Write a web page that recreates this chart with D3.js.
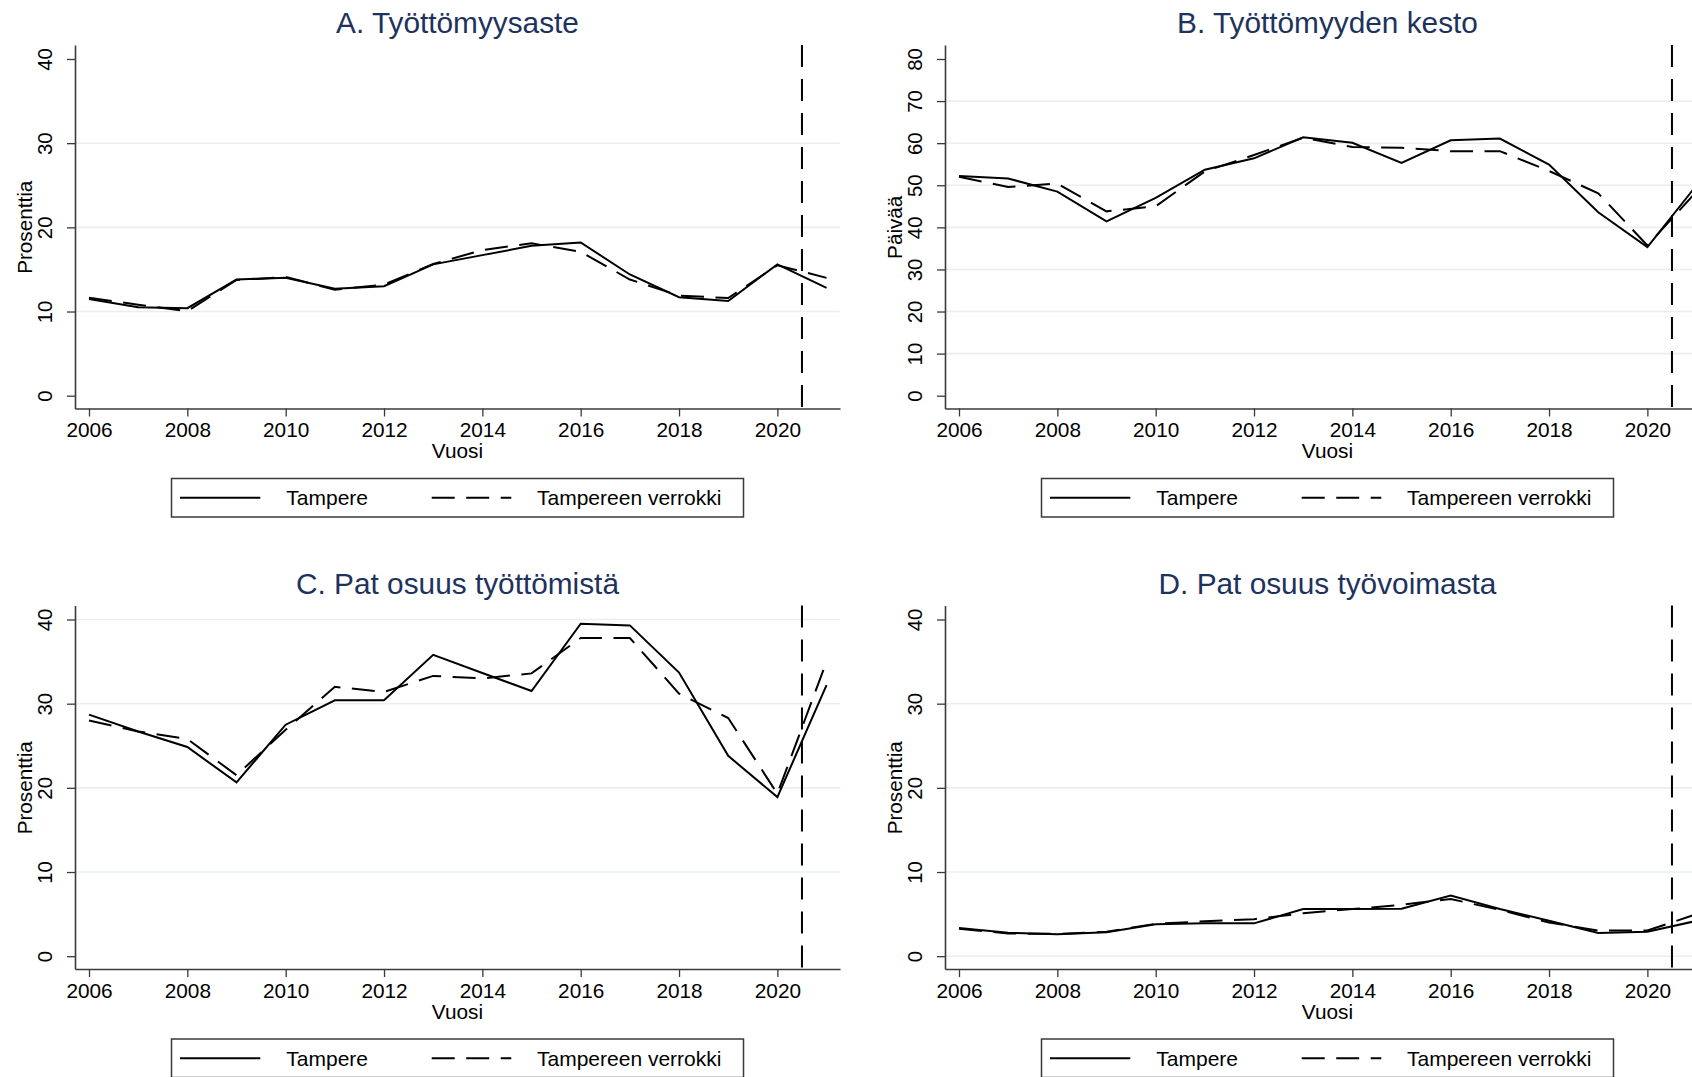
<!DOCTYPE html>
<html>
<head>
<meta charset="utf-8">
<script src="https://cdn.jsdelivr.net/npm/d3@7"></script>
<style>
  body { margin: 0; background: #fff; }
  svg { display: block; font-family: "Liberation Sans", Arial, sans-serif; }
</style>
</head>
<body>
<div id="chart"></div>
<script>
// years on the x axis
var years = [2006, 2007, 2008, 2009, 2010, 2011, 2012, 2013, 2014, 2015, 2016, 2017, 2018, 2019, 2020, 2021];
var xTicks = [2006, 2008, 2010, 2012, 2014, 2016, 2018, 2020];
var cutYear = 2020.5;

// A. Työttömyysaste (%)
var aTampere  = [11.5, 10.5, 10.4, 13.8, 14.0, 12.7, 13.0, 15.6, 16.7, 17.8, 18.2, 14.4, 11.7, 11.25, 15.6, 12.8];
var aVerrokki = [11.65, 10.8, 10.05, 13.75, 14.1, 12.6, 13.2, 15.65, 17.3, 18.1, 17.1, 13.8, 11.9, 11.6, 15.5, 14.0];

// B. Työttömyyden kesto (päivää)
var bTampere  = [52.2, 51.6, 48.5, 41.4, 47.0, 53.7, 56.4, 61.4, 60.1, 55.3, 60.7, 61.1, 54.9, 43.6, 35.3, 50.0];
var bVerrokki = [52.0, 49.6, 50.4, 43.8, 45.0, 53.3, 57.2, 61.3, 59.1, 58.9, 58.1, 58.1, 53.4, 48.1, 35.7, 48.5];

// C. Pat osuus työttömistä (%)
var cTampere  = [28.7, 26.7, 24.85, 20.65, 27.5, 30.4, 30.4, 35.8, 33.65, 31.5, 39.5, 39.3, 33.7, 23.8, 18.9, 32.2];
var cVerrokki = [28.0, 26.7, 25.8, 21.5, 26.9, 32.0, 31.4, 33.3, 33.0, 33.6, 37.8, 37.8, 31.2, 28.3, 19.3, 35.0];

// D. Pat osuus työvoimasta (%)
var dTampere  = [3.35, 2.8, 2.6, 2.85, 3.8, 3.9, 3.9, 5.6, 5.6, 5.65, 7.2, 5.6, 4.2, 2.75, 2.9, 4.2];
var dVerrokki = [3.25, 2.7, 2.65, 2.9, 3.85, 4.15, 4.4, 5.1, 5.6, 6.1, 6.8, 5.5, 4.0, 3.05, 3.05, 5.0];

var seriesNames = ["Tampere", "Tampereen verrokki"];

var svgWidth = 1692;
var svgHeight = 1077;

// plot region of one panel (panel-local coordinates)
var plot = { left: 75, top: 45, width: 765, height: 363.5 };
var yearPx = 49.17;

var titleColor = "#1e325e";
var axisColor = "#3a3a3a";
var gridColor = "#e8eff1";
var dashSeries = "23,11.5";
var dashCut = "22,12";

var panels = [
  { title: "A. Työttömyysaste", yLabel: "Prosenttia", yMax: 40, yTicks: [0, 10, 20, 30, 40], grid: [10, 20, 30],
    tampere: aTampere, verrokki: aVerrokki, dx: 0, dy: 0 },
  { title: "B. Työttömyyden kesto", yLabel: "Päivää", yMax: 80, yTicks: [0, 10, 20, 30, 40, 50, 60, 70, 80], grid: [10, 20, 30, 40, 50, 60, 70],
    tampere: bTampere, verrokki: bVerrokki, dx: 870, dy: 0 },
  { title: "C. Pat osuus työttömistä", yLabel: "Prosenttia", yMax: 40, yTicks: [0, 10, 20, 30, 40], grid: [10, 20, 30, 40],
    tampere: cTampere, verrokki: cVerrokki, dx: 0, dy: 560.5 },
  { title: "D. Pat osuus työvoimasta", yLabel: "Prosenttia", yMax: 40, yTicks: [0, 10, 20, 30, 40], grid: [0, 10, 20, 30],
    tampere: dTampere, verrokki: dVerrokki, dx: 870, dy: 560.5 }
];

var svg = d3.select("#chart")
  .append("svg")
  .attr("width", svgWidth)
  .attr("height", svgHeight)
  .style("overflow", "hidden");

svg.append("rect").attr("width", svgWidth).attr("height", svgHeight).attr("fill", "#fff");

function drawPanel(p) {
  var g = svg.append("g")
    .attr("transform", `translate(${p.dx + plot.left}, ${p.dy + plot.top})`);

  // x: 2006 sits 14px right of the y axis
  var x0 = 2006 - 14 / yearPx;
  var x1 = x0 + plot.width / yearPx;
  var xScale = d3.scaleLinear().domain([x0, x1]).range([0, plot.width]);

  // y: 0..yMax spans 336.7px, axis overhangs 12.8px below and 14px above
  var unit = 336.7 / p.yMax;
  var yScale = d3.scaleLinear()
    .domain([-12.8 / unit, p.yMax + 14 / unit])
    .range([plot.height, 0]);

  // grid lines
  g.append("g").selectAll("line")
    .data(p.grid)
    .enter()
    .append("line")
    .attr("x1", 0)
    .attr("x2", plot.width)
    .attr("y1", d => yScale(d))
    .attr("y2", d => yScale(d))
    .attr("stroke", gridColor)
    .attr("stroke-width", 1.6);

  // title
  svg.append("text")
    .attr("x", p.dx + plot.left + plot.width / 2)
    .attr("y", p.dy + 33.3)
    .attr("text-anchor", "middle")
    .attr("font-size", "29.8px")
    .attr("fill", titleColor)
    .text(p.title);

  // x axis
  var xAxis = g.append("g")
    .attr("transform", `translate(0, ${plot.height})`)
    .call(d3.axisBottom(xScale).tickValues(xTicks).tickFormat(d3.format("d")).tickSize(8).tickSizeOuter(0).tickPadding(6));
  xAxis.select(".domain").attr("stroke", axisColor).attr("stroke-width", 1.6);
  xAxis.selectAll(".tick line").attr("stroke", axisColor).attr("stroke-width", 1.3);
  xAxis.selectAll(".tick text")
    .attr("font-size", "20.8px")
    .attr("font-family", "Liberation Sans, Arial, sans-serif")
    .attr("fill", "#000");

  // y axis with vertical labels
  var yAxis = g.append("g")
    .call(d3.axisLeft(yScale).tickValues(p.yTicks).tickSize(8).tickSizeOuter(0).tickFormat(d3.format("d")));
  yAxis.select(".domain").attr("stroke", axisColor).attr("stroke-width", 1.6);
  yAxis.selectAll(".tick line").attr("stroke", axisColor).attr("stroke-width", 1.3);
  yAxis.selectAll(".tick text")
    .attr("x", null)
    .attr("transform", "translate(-30, 0) rotate(-90)")
    .attr("text-anchor", "middle")
    .attr("dy", "0.36em")
    .attr("font-size", "20.3px")
    .attr("font-family", "Liberation Sans, Arial, sans-serif")
    .attr("fill", "#000");

  // axis titles
  g.append("text")
    .attr("transform", `translate(-50, ${plot.height / 2 + 0.5}) rotate(-90)`)
    .attr("text-anchor", "middle")
    .attr("dy", "0.36em")
    .attr("font-size", "20.7px")
    .attr("fill", "#000")
    .text(p.yLabel);

  g.append("text")
    .attr("x", plot.width / 2)
    .attr("y", plot.height + 49.5)
    .attr("text-anchor", "middle")
    .attr("font-size", "20.8px")
    .attr("fill", "#000")
    .text("Vuosi");

  // lines
  var line = d3.line()
    .x((d, i) => xScale(years[i]))
    .y(d => yScale(d));

  g.append("path")
    .datum(p.verrokki)
    .attr("d", line)
    .attr("fill", "none")
    .attr("stroke", "#000")
    .attr("stroke-width", 2)
    .attr("stroke-dasharray", dashSeries);

  g.append("path")
    .datum(p.tampere)
    .attr("d", line)
    .attr("fill", "none")
    .attr("stroke", "#000")
    .attr("stroke-width", 2);

  // vertical reference line at 2020.5
  g.append("line")
    .attr("x1", xScale(cutYear))
    .attr("x2", xScale(cutYear))
    .attr("y1", 0)
    .attr("y2", plot.height)
    .attr("stroke", "#000")
    .attr("stroke-width", 2)
    .attr("stroke-dasharray", dashCut);

  // legend
  var legW = 572, legH = 38.5;
  var legend = g.append("g")
    .attr("transform", `translate(${plot.width / 2 - legW / 2}, ${433.5})`);
  legend.append("rect")
    .attr("width", legW)
    .attr("height", legH)
    .attr("fill", "#fff")
    .attr("stroke", axisColor)
    .attr("stroke-width", 1.5);

  var items = [
    { name: seriesNames[0], x1: 8.5, x2: 88.8, tx: 114.8, dash: null },
    { name: seriesNames[1], x1: 260.2, x2: 339.8, tx: 365.5, dash: dashSeries }
  ];
  items.forEach(function(it) {
    legend.append("line")
      .attr("x1", it.x1)
      .attr("x2", it.x2)
      .attr("y1", legH / 2)
      .attr("y2", legH / 2)
      .attr("stroke", "#000")
      .attr("stroke-width", 2)
      .attr("stroke-dasharray", it.dash);
    legend.append("text")
      .attr("x", it.tx)
      .attr("y", legH / 2)
      .attr("dy", "0.36em")
      .attr("font-size", "21px")
      .attr("fill", "#000")
      .text(it.name);
  });
}

panels.forEach(drawPanel);
</script>
</body>
</html>
